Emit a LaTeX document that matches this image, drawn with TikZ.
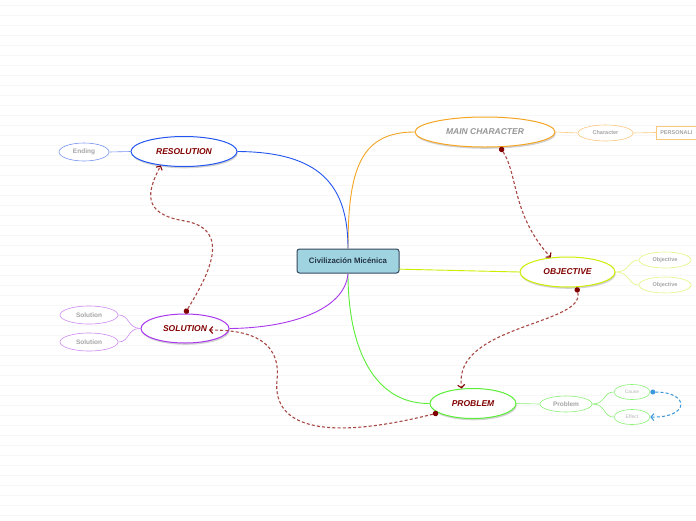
\documentclass[tikz,border=0pt]{standalone}
\usepackage{fontspec}
\setmainfont{Liberation Sans}
\usetikzlibrary{arrows.meta,calc,shapes.geometric,shadows}
\definecolor{hubFill}{RGB}{160,211,224}
\definecolor{hubLine}{RGB}{52,72,92}
\definecolor{hubText}{RGB}{36,52,70}
\definecolor{topicText}{RGB}{130,0,0}
\definecolor{mcText}{RGB}{150,150,150}
\definecolor{leafText}{RGB}{165,165,165}
\definecolor{ruleLine}{RGB}{247,247,247}
\definecolor{charLine}{RGB}{245,165,35}
\definecolor{charLeaf}{RGB}{250,200,125}
\definecolor{objLine}{RGB}{205,238,0}
\definecolor{objLeaf}{RGB}{228,245,130}
\definecolor{probLine}{RGB}{90,238,55}
\definecolor{probLeaf}{RGB}{140,240,120}
\definecolor{resLine}{RGB}{35,85,240}
\definecolor{resLeaf}{RGB}{120,150,240}
\definecolor{solLine}{RGB}{170,55,238}
\definecolor{solLeaf}{RGB}{205,140,242}
\definecolor{relLine}{RGB}{168,72,68}
\definecolor{relDot}{RGB}{128,0,0}
\definecolor{selfLine}{RGB}{55,150,220}
\tikzset{
  hub/.style={rectangle, rounded corners=2.5pt, draw=hubLine, line width=1pt, fill=hubFill,
              minimum width=102pt, minimum height=24pt, text=hubText, font=\fontsize{7.8}{9}\selectfont\bfseries},
  topic/.style={ellipse, draw=#1, line width=1pt, fill=white, inner sep=0pt, minimum height=30pt,
                text=topicText, font=\fontsize{8.5}{10}\selectfont\bfseries\itshape,
                drop shadow={shadow xshift=0.8pt, shadow yshift=-1.8pt, opacity=0.35}},
  leaf/.style={ellipse, draw=#1, line width=0.6pt, fill=white, inner sep=0pt, minimum height=16pt,
               text=leafText, font=\fontsize{5.5}{6}\selectfont\bfseries},
  bigleaf/.style={minimum height=18pt, font=\fontsize{6.5}{7}\selectfont\bfseries},
  tinyleaf/.style={minimum height=15pt, text=black!28, font=\fontsize{5}{6}\selectfont},
  branch/.style={draw=#1, line width=0.9pt},
  twig/.style={draw=#1, line width=0.6pt},
  rel/.style={draw=relLine, line width=1.1pt, dash pattern=on 3pt off 2.2pt,
              {Circle[length=5.5pt, color=relDot, line width=0pt]}-{Straight Barb[length=3pt, width=7pt, color=topicText]}},
  selfrel/.style={draw=selfLine, line width=1pt, dash pattern=on 3pt off 2.2pt,
                  {Circle[length=5pt, color=selfLine, line width=0pt]}-{Straight Barb[length=3pt, width=7pt, color=selfLine]}},
}
\begin{document}
\begin{tikzpicture}[x=1pt, y=-1pt]
  \useasboundingbox (0,0) rectangle (696,520);
  \clip (0,0) rectangle (696,520);
  \fill[white] (0,0) rectangle (696,520);
  \foreach \ry in {5,15,...,515}
    \draw[ruleLine, line width=0.6pt] (0,\ry) -- (696,\ry);

  \node[hub] (ctr) at (348,261) {Civilización Micénica};

  \node[topic=charLine, minimum width=140pt, text=mcText] (mc) at (485,132) {MAIN CHARACTER};
  \node[leaf=charLeaf, minimum width=55pt] (ch) at (605.5,133) {Character};
  \node[rectangle, draw=charLeaf, line width=0.6pt, fill=white, anchor=west, minimum height=13pt,
        text width=40pt, align=left, inner xsep=4pt, text=leafText,
        font=\fontsize{5.5}{6}\selectfont\bfseries] (pers) at (656,132.5) {PERSONALI};

  \node[topic=objLine, minimum width=95pt] (obj) at (567.5,272) {OBJECTIVE};
  \node[leaf=objLeaf, minimum width=52pt] (o1) at (665,260) {Objective};
  \node[leaf=objLeaf, minimum width=52pt] (o2) at (665,285) {Objective};

  \node[topic=probLine, minimum width=86pt] (prob) at (473,403.5) {PROBLEM};
  \node[leaf=probLeaf, bigleaf, minimum width=52pt, minimum height=16pt] (pb) at (566,404) {Problem};
  \node[leaf=probLeaf, tinyleaf, minimum width=36pt] (cause) at (632,392) {Cause};
  \node[leaf=probLeaf, tinyleaf, minimum width=36pt] (effect) at (632,417) {Effect};

  \node[topic=resLine, minimum width=106pt] (res) at (184,151.5) {RESOLUTION};
  \node[leaf=resLeaf, bigleaf, minimum width=50pt] (end) at (84,152) {Ending};

  \node[topic=solLine, minimum width=88pt, minimum height=29pt] (sol) at (185,328.5) {SOLUTION};
  \node[leaf=solLeaf, bigleaf, minimum width=58pt] (s1) at (89,315) {Solution};
  \node[leaf=solLeaf, bigleaf, minimum width=58pt] (s2) at (89,342) {Solution};

  \draw[branch=charLine] (ctr.north) .. controls (348,170) and (360,132) .. (mc.west);
  \draw[branch=resLine] (ctr.north) .. controls (348,185) and (320,152) .. (res.east);
  \draw[branch=objLine] (ctr.-9) -- (obj.west);
  \draw[branch=probLine] (ctr.south) .. controls (348,350) and (375,404) .. (prob.west);
  \draw[branch=solLine] (ctr.south) .. controls (345,310) and (290,328) .. (sol.east);

  \draw[twig=charLeaf] (mc.east) -- (ch.west);
  \draw[twig=charLeaf] (ch.east) -- (pers.west);
  \draw[twig=objLeaf] (obj.east) .. controls (630,272) and (628,260) .. (o1.west);
  \draw[twig=objLeaf] (obj.east) .. controls (630,272) and (628,285) .. (o2.west);
  \draw[twig=probLeaf] (prob.east) -- (pb.west);
  \draw[twig=probLeaf] (pb.east) .. controls (606,404) and (603,392) .. (cause.west);
  \draw[twig=probLeaf] (pb.east) .. controls (606,404) and (603,417) .. (effect.west);
  \draw[twig=resLeaf] (res.west) -- (end.east);
  \draw[twig=solLeaf] (sol.west) .. controls (127,328) and (130,315) .. (s1.east);
  \draw[twig=solLeaf] (sol.west) .. controls (127,328) and (130,342) .. (s2.east);

  \coordinate (solIn) at ($(sol.center)+(24,1.5)$);
  \draw[rel] (mc.-45) .. controls (518,175) and (512,215) .. (obj.139);
  \draw[rel] (obj.-59) .. controls (585,325) and (452,325) .. (prob.127);
  \draw[rel] (prob.-165) .. controls (330,440) and (272,430) .. (277,380)
             .. controls (282,335) and (240,330) .. (solIn);
  \draw[rel] (sol.north) .. controls (205,280) and (235,230) .. (185,221)
             .. controls (140,214) and (148,190) .. (res.-149);
  \draw[selfrel] (cause.east) .. controls (690,392) and (690,418) .. (effect.east);
\end{tikzpicture}
\end{document}
